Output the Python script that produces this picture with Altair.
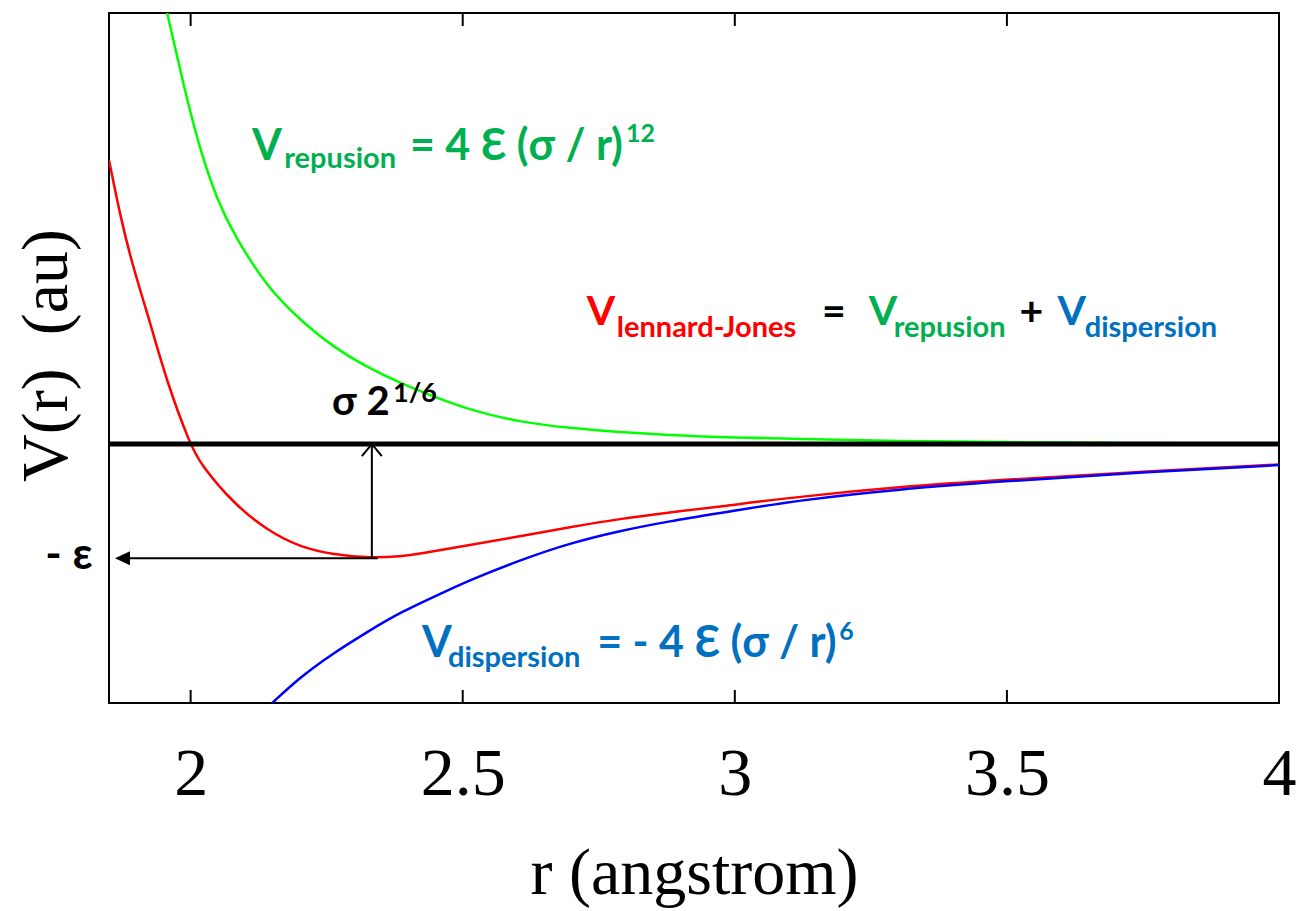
import altair as alt
import pandas as pd

# ---- curve values (r in angstrom, V in units of epsilon) ----
red_r = [1.850, 1.871, 1.894, 1.926, 1.957, 1.999, 2.017, 2.078, 2.140, 2.201, 2.262,
         2.333, 2.385, 2.421, 2.513, 2.605, 2.697, 2.789, 2.881, 2.972, 3.119, 3.303,
         3.487, 3.731, 4.000]
red_v = [2.49, 1.991, 1.553, 1.061, 0.535, 0.0, -0.167, -0.518, -0.754, -0.904, -0.968,
         -1.0, -0.984, -0.960, -0.886, -0.807, -0.728, -0.655, -0.598, -0.548, -0.460,
         -0.375, -0.315, -0.246, -0.178]

blue_r = [2.150, 2.201, 2.262, 2.324, 2.385, 2.477, 2.513, 2.605, 2.697, 2.789, 2.881,
          2.972, 3.119, 3.303, 3.487, 3.731, 4.000]
blue_v = [-2.27, -2.044, -1.833, -1.649, -1.474, -1.272, -1.193, -1.018, -0.868, -0.760,
          -0.675, -0.605, -0.490, -0.395, -0.328, -0.252, -0.184]

green_r = [1.957, 1.986, 2.017, 2.049, 2.078, 2.140, 2.201, 2.262, 2.324, 2.385, 2.440,
           2.513, 2.605, 2.697, 2.789, 2.881, 2.972, 3.119, 3.303, 3.487, 3.731, 4.000]
green_v = [3.78, 3.167, 2.579, 2.140, 1.851, 1.377, 1.088, 0.851, 0.675, 0.535, 0.430,
           0.298, 0.193, 0.140, 0.105, 0.079, 0.061, 0.044, 0.026, 0.018, 0.009, 0.004]

x_ticks = [2, 2.5, 3, 3.5, 4]
x_domain = [1.85, 4.0]
y_domain = [-2.27, 3.78]
tick_centers = [3.723, -2.213]   # inward tick marks, top and bottom

# arrows marking sigma*2^(1/6) and -epsilon
r_min = 2.333
eps_v = -1.0
h_arrow_r = [2.344, 1.866]
h_head_r = 1.861

# ---- annotation pieces: text, r, V, font size, colour ----
ann_text = ["V", "repusion", "= 4 Ɛ (σ / r)", "12",
            "V", "lennard-Jones", "=", "V", "repusion", "+", "V", "dispersion",
            "V", "dispersion", "= - 4 Ɛ (σ / r)", "6",
            "σ 2", "1/6", "- ε"]
ann_r = [2.113, 2.172, 2.403, 2.800,
         2.728, 2.783, 3.160, 3.246, 3.292, 3.523, 3.593, 3.643,
         2.425, 2.473, 2.747, 3.192,
         2.260, 2.372, 1.733]
ann_v = [2.491, 2.421, 2.491, 2.650,
         1.044, 0.939, 1.044, 1.044, 0.939, 1.044, 1.044, 0.939,
         -1.868, -1.956, -1.868, -1.720,
         0.254, 0.370, -1.095]
ann_size = [43, 29, 43, 25,
            41, 29, 41, 41, 29, 41, 41, 29,
            43, 29, 43, 25,
            40, 27, 44]
ann_color = ["#00B050", "#00B050", "#00B050", "#00B050",
             "#FF0000", "#FF0000", "#000000", "#00B050", "#00B050", "#000000", "#0070C0", "#0070C0",
             "#0070C0", "#0070C0", "#0070C0", "#0070C0",
             "#000000", "#000000", "#000000"]

SERIF = "Liberation Serif"
SANS = "Lato, Open Sans, sans-serif"

AX_X = alt.Axis(values=x_ticks, format="~g", ticks=False, domain=False, grid=False,
                labelFont=SERIF, labelFontSize=68, labelColor="black", labelPadding=91,
                labelBaseline="alphabetic", labelFlush=False, labelOverlap=False,
                title="r (angstrom)", titleFont=SERIF, titleFontSize=66,
                titleFontWeight="normal", titleColor="black", titleX=585, titleY=190,
                titleAlign="center", titleBaseline="alphabetic")
AX_Y = alt.Axis(labels=False, ticks=False, domain=False, grid=False,
                title="V(r)\u00a0\u00a0(au)", titleFont=SERIF, titleFontSize=66,
                titleFontWeight="normal", titleColor="black", titleAngle=270,
                titleX=-63, titleY=342, titleAlign="center", titleBaseline="middle")


def X(f):
    return alt.X(f, type="quantitative", scale=alt.Scale(domain=x_domain, nice=False, zero=False), axis=AX_X)


def Y(f):
    return alt.Y(f, type="quantitative", scale=alt.Scale(domain=y_domain, nice=False, zero=False), axis=AX_Y)


curves = pd.concat([
    pd.DataFrame({"r": red_r, "v": red_v, "s": "red"}),
    pd.DataFrame({"r": blue_r, "v": blue_v, "s": "blue"}),
    pd.DataFrame({"r": green_r, "v": green_v, "s": "green"}),
])

lines = alt.Chart(curves).mark_line(interpolate="basis", strokeWidth=2.5, clip=True).encode(
    x=X("r"), y=Y("v"),
    color=alt.Color("s:N", scale=alt.Scale(domain=["red", "blue", "green"],
                                           range=["#FF0000", "#0000FF", "#00FF00"]), legend=None),
    detail="s:N",
)

zero = alt.Chart(pd.DataFrame({"v": [0.0]})).mark_rule(color="black", strokeWidth=5).encode(y=Y("v"))

tick_df = pd.DataFrame({"t": [float(t) for t in x_ticks] * 2,
                        "c": [tick_centers[0]] * 5 + [tick_centers[1]] * 5})
ticks = alt.Chart(tick_df).mark_tick(color="black", orient="vertical", size=13, thickness=2,
                                     opacity=1).encode(x=X("t"), y=Y("c"))

v_arrow = alt.Chart(pd.DataFrame({"r": [r_min], "v": [eps_v], "v2": [0.0]})).mark_rule(
    color="black", strokeWidth=2).encode(x=X("r"), y=Y("v"), y2="v2")
h_arrow = alt.Chart(pd.DataFrame({"r": [h_arrow_r[0]], "r2": [h_arrow_r[1]], "v": [eps_v]})).mark_rule(
    color="black", strokeWidth=2).encode(x=X("r"), x2="r2", y=Y("v"))

head_up = alt.Chart(pd.DataFrame({"r": [r_min], "v": [0.0]})).mark_point(
    shape="M-1,1.2L0,0L1,1.2", size=400, filled=False, stroke="black", strokeWidth=2, opacity=1
).encode(x=X("r"), y=Y("v"))
head_left = alt.Chart(pd.DataFrame({"r": [h_head_r], "v": [eps_v]})).mark_point(
    shape="M0,0L1.5,-0.7L1.5,0.7Z", size=400, filled=True, color="black", opacity=1
).encode(x=X("r"), y=Y("v"))

ann = pd.DataFrame({"t": ann_text, "r": ann_r, "v": ann_v, "s": ann_size, "c": ann_color})
texts = alt.Chart(ann).mark_text(align="left", baseline="alphabetic", fontWeight="bold", font=SANS).encode(
    x=X("r"), y=Y("v"), text="t:N",
    size=alt.Size("s:Q", scale=None), color=alt.Color("c:N", scale=None),
)

chart = alt.layer(lines, zero, ticks, v_arrow, h_arrow, head_up, head_left, texts).properties(
    width=1170, height=690,
    padding={"left": 109, "top": 13, "right": 24, "bottom": 208},
    autosize=alt.AutoSizeParams(type="none"),
).configure_view(stroke="black", strokeWidth=2)

chart.save("out.html", embed_options={"renderer": "svg", "actions": False})
